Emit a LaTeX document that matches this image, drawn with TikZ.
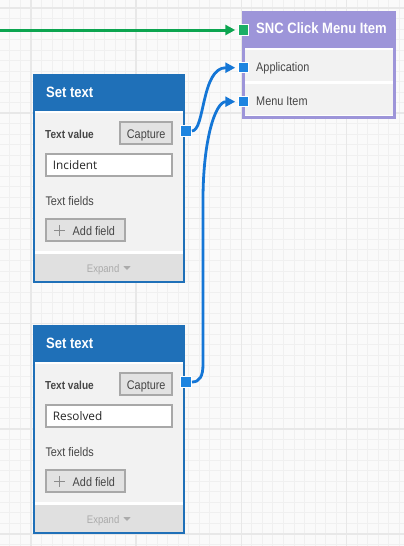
\documentclass[tikz,border=0pt]{standalone}
\usepackage{fontspec}
\setmainfont{Liberation Sans}[FakeStretch=0.87]
\newfontfamily\inputfont{Open Sans}
\usetikzlibrary{arrows.meta}
\definecolor{bgc}{HTML}{FAFAFA}
\definecolor{minorc}{HTML}{F0F0F0}
\definecolor{majorc}{HTML}{E8E8E8}
\definecolor{setblue}{HTML}{1F70B8}
\definecolor{purp}{HTML}{9D95D9}
\definecolor{bodygray}{HTML}{F2F2F2}
\definecolor{footgray}{HTML}{E0E0E0}
\definecolor{btnfill}{HTML}{E2E2E2}
\definecolor{btnborder}{HTML}{A8A8A8}
\definecolor{labelc}{HTML}{464646}
\definecolor{expandc}{HTML}{ABABAB}
\definecolor{portblue}{HTML}{1E85E0}
\definecolor{portgreen}{HTML}{1BAF66}
\definecolor{connblue}{HTML}{1476D6}
\definecolor{conngreen}{HTML}{0CA550}
\definecolor{plusc}{HTML}{8C8C8C}
\tikzset{
  hdr/.style={anchor=base west, inner sep=0, text=white, font=\fontsize{15}{17}\selectfont\bfseries},
  lblb/.style={anchor=base west, inner sep=0, text=labelc, font=\fontsize{11.6}{13}\selectfont\bfseries},
  lbl/.style={anchor=base west, inner sep=0, text=labelc, font=\fontsize{12.5}{14}\selectfont},
  valtxt/.style={anchor=base west, inner sep=0, text=black!85, font=\inputfont\fontsize{11.8}{13}\selectfont},
  exptxt/.style={anchor=base west, inner sep=0, text=expandc, font=\fontsize{11}{13}\selectfont},
  btnbox/.style={draw=btnborder, fill=btnfill, line width=2pt, inner sep=0},
  inbox/.style={draw=btnborder, fill=white, line width=2pt, inner sep=0},
  port/.style={draw=white, line width=1pt, minimum size=10.5pt, inner sep=0},
  blueconn/.style={draw=connblue, line width=2.8pt, -{Triangle[length=10pt,width=10pt]}},
  greenconn/.style={draw=conngreen, line width=3pt, -{Triangle[length=10pt,width=10pt]}},
  minorline/.style={draw=minorc, line width=1pt},
  majorline/.style={draw=majorc, line width=1.6pt},
}
\newcommand\settextbox[2]{%
  \fill[setblue] (32.7,74.3) rectangle (185.3,283.3);
  \fill[white] (35.1,110.7) rectangle (182.9,281);
  \fill[bodygray] (35.1,113.3) rectangle (182.9,251);
  \fill[footgray] (35.1,253.5) rectangle (182.9,281);
  \node[hdr] (#1title) at (46,97.7) {Set text};
  \node[lblb] (#1tv) at (45,138) {Text value};
  \node[btnbox, minimum width=51.7pt, minimum height=22.3pt] (#1capbtn) at (145.9,133.2) {};
  \node[lbl, anchor=base] (#1cap) at (146.2,138) {Capture};
  \node[inbox, minimum width=125.4pt, minimum height=22.6pt] (#1in) at (109,165) {};
  \node[valtxt] (#1val) at (52.7,169) {#2};
  \node[lbl] (#1tf) at (45.3,205) {Text fields};
  \node[btnbox, minimum width=79pt, minimum height=22.6pt] (#1addbtn) at (85.5,230) {};
  \draw[plusc, line width=1.5pt] (54,230.3) -- (65,230.3) (59.5,224.8) -- (59.5,235.8);
  \node[lbl] (#1add) at (72.5,235.7) {Add field};
  \node[exptxt] (#1exp) at (86.7,272.3) {Expand};
  \fill[expandc] (123.3,266) -- (130.7,266) -- (127,270) -- cycle;
  \node[port, fill=portblue] (#1out) at (186.2,131) {};
}
\begin{document}
\begin{tikzpicture}[x=1pt,y=-1pt]
\useasboundingbox (0,0) rectangle (404,546);
\fill[bgc] (0,0) rectangle (404,546);
% grid
\foreach \i in {-3,...,36} {\draw[minorline] ({31+\i*10.52},0) -- ({31+\i*10.52},546);}
\foreach \j in {0,...,52} {\draw[minorline] (0,{8+\j*10.52}) -- (404,{8+\j*10.52});}
\foreach \k in {0,...,3} {\draw[majorline] ({31+\k*105.2},0) -- ({31+\k*105.2},546);}
\foreach \k in {0,...,5} {\draw[majorline] (0,{8+\k*105.2}) -- (404,{8+\k*105.2});}

% SNC Click Menu Item
\fill[purp] (242,11) rectangle (396,119);
\fill[white] (244.6,48) rectangle (393.4,116.4);
\fill[bodygray] (244.6,50.3) rectangle (393.4,81.3);
\fill[bodygray] (244.6,83.6) rectangle (393.4,115.3);
\node[hdr] (snct) at (256,33.7) {SNC Click Menu Item};
\node[lbl] (app) at (256,71.7) {Application};
\node[lbl] (menu) at (256,105.2) {Menu Item};
\node[port, fill=portgreen] (pin) at (243.5,30) {};
\node[port, fill=portblue] (pApp) at (243.5,67.7) {};
\node[port, fill=portblue] (pMenu) at (243.5,101.7) {};

% Set text boxes
\settextbox{ba}{Incident}
\begin{scope}[yshift=-251pt]
\settextbox{bb}{Resolved}
\end{scope}

% connectors
\coordinate (gsrc) at (-2,30);
\draw[greenconn] (gsrc) -- ([xshift=-2.5pt]pin.west);
\draw[blueconn] (baout.east) .. controls +(13,0) and +(-34,0) .. ([xshift=-2.5pt]pApp.west);
\coordinate (m2a) at (203,364);
\coordinate (m2b) at (203,200);
\draw[blueconn] (bbout.east) .. controls +(8,0) and +(0,12) .. (m2a) -- (m2b) .. controls +(0,-60) and +(-20,0) .. ([xshift=-2.5pt]pMenu.west);
\end{tikzpicture}
\end{document}
